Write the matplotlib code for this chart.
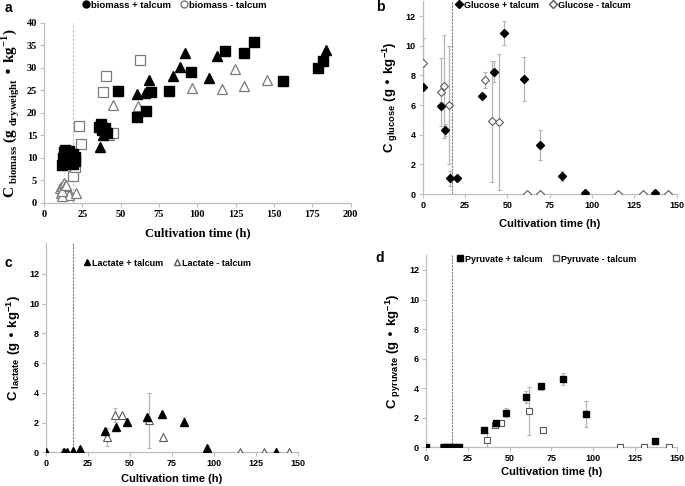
import matplotlib
matplotlib.use('Agg')
import matplotlib.pyplot as plt
from matplotlib.lines import Line2D

# ---- panel a : biomass ----
bio_sq_x = [12, 12.5, 13, 14, 14, 15, 16, 16, 17, 18, 19, 19, 20, 20,
            36, 37, 38, 40, 41, 48, 60.5, 66.5, 69.5, 81.5, 96, 118, 130.5, 137, 156, 179, 182]
bio_sq_y = [8.4, 10, 11.2, 9, 11.8, 10.2, 11.5, 8.8, 10.5, 9.5, 10.8, 8.5, 9.3, 10.2,
            16.8, 17.5, 16.2, 16.5, 15.5, 24.8, 19.0, 20.4, 24.5, 24.8, 29.0, 33.7, 33.2, 35.8, 27.0, 29.9, 31.5]
bio_tri_x = [36.5, 38.5, 60.8, 65.9, 68.7, 83.9, 88.7, 91.9, 107.8, 112.6, 184]
bio_tri_y = [12.3, 15.0, 24.2, 24.3, 27.3, 28.2, 30.1, 33.3, 27.6, 32.6, 33.9]
bio_osq_x = [18.7, 20.5, 23, 24, 38.7, 40.4, 45, 62.6]
bio_osq_y = [5.9, 8.0, 17.0, 13.0, 24.5, 28.2, 15.4, 31.6]
bio_otri_x = [10.5, 11, 11.5, 12, 12.5, 13, 13.5, 14, 14.5, 15, 15.5, 16, 12, 13.5, 11.5, 14.5,
              20.9, 42.5, 44.8, 61.1, 96.5, 115.9, 124.3, 130.4, 145.2]
bio_otri_y = [3.2, 2.2, 3.8, 2.6, 1.8, 4.3, 3.0, 2.0, 3.5, 2.4, 2.9, 1.7, 1.5, 3.6, 2.7, 3.9,
              2.2, 15.0, 21.6, 21.5, 25.5, 25.2, 29.6, 26.0, 27.3]

# ---- panel b : glucose ----
glc_p_x = [0, 11, 13, 16, 20, 35, 42, 48, 60, 69, 82, 96, 137]
glc_p_y = [7.2, 5.9, 4.3, 1.05, 1.05, 6.6, 8.25, 10.85, 7.75, 3.3, 1.2, 0.1, 0.05]
glc_p_e = [0, 0, 0.4, 0.5, 0, 0, 0.7, 0.8, 1.5, 1.0, 0.35, 0, 0]
glc_m_x = [0, 11, 12.5, 15.5, 37, 41, 45, 61.5, 69.5, 115.5, 130, 145]
glc_m_y = [8.8, 6.9, 7.25, 6.0, 7.7, 4.9, 4.85, 0, 0, 0, 0, 0]
glc_m_e = [1.7, 2.3, 3.5, 4.0, 0.55, 4.1, 4.6, 0, 0, 0, 0, 0]

# ---- panel c : lactate ----
lac_p_x = [0, 11, 12.5, 16, 20, 35, 42, 48, 60, 69, 82, 96, 137]
lac_p_y = [0, 0.05, 0.05, 0.1, 0.25, 1.45, 1.7, 2.05, 2.35, 2.55, 2.05, 0.3, 0]
lac_p_e = [0, 0, 0, 0, 0, 0, 0, 0, 0, 0, 0.3, 0, 0]
lac_m_x = [10, 36.5, 41, 45, 61.5, 70, 115.5, 130, 145]
lac_m_y = [0.05, 1.05, 2.5, 2.5, 2.15, 1.0, 0, 0, 0]
lac_m_e = [0, 0.6, 0.45, 0, 1.85, 0, 0, 0, 0]

# ---- panel d : pyruvate ----
pyr_p_x = [0, 10.5, 12.5, 14.5, 16.5, 20, 35, 42, 48, 60, 69, 82, 96, 137]
pyr_p_y = [0, 0, 0, 0, 0, 0.05, 1.2, 1.65, 2.35, 3.4, 4.12, 4.6, 2.25, 0.45]
pyr_p_e = [0, 0, 0, 0, 0, 0, 0, 0, 0.3, 0.4, 0.25, 0.4, 0.9, 0]
pyr_m_x = [10, 36.5, 41.5, 45, 61.5, 70, 116, 130.5, 145.5]
pyr_m_y = [0, 0.5, 1.5, 1.62, 2.46, 1.17, 0, 0, 0]
pyr_m_e = [0, 0.5, 0, 0, 1.65, 0, 0, 0, 0]

SERIF = 'Liberation Serif'
SANS = 'Liberation Sans'
SPINE = '#bdbdbd'
ERR = '#b5b5b5'
HOLLOW = '#7a7a7a'

fig = plt.figure(figsize=(6.85, 4.86), dpi=100)


def style_axes(ax, family, ticksize):
    for s in ['top', 'right']:
        ax.spines[s].set_visible(False)
    for s in ['left', 'bottom']:
        ax.spines[s].set_color(SPINE)
        ax.spines[s].set_linewidth(0.9)
    ax.tick_params(length=3, width=0.8, color=SPINE, pad=2, labelsize=ticksize)
    for lab in ax.get_xticklabels() + ax.get_yticklabels():
        lab.set_fontfamily(family)
        lab.set_fontweight('bold')


# ================= a =================
axa = fig.add_axes([44/685, 1-202.7/486, 306.7/685, 180/486])
axa.axvline(18.7, color='#c8c8c8', lw=1.0, ls=(0, (2, 1)), zorder=0)
axa.plot(bio_otri_x, bio_otri_y, '^', ms=7, mfc='white', mec=HOLLOW, mew=0.9, ls='none')
axa.plot(bio_osq_x, bio_osq_y, 's', ms=7, mfc='white', mec=HOLLOW, mew=0.9, ls='none')
axa.plot(bio_sq_x, bio_sq_y, 's', ms=7, color='black', ls='none')
axa.plot(bio_tri_x, bio_tri_y, '^', ms=7, color='black', ls='none')
axa.set_xlim(0, 200)
axa.set_ylim(0, 40)
axa.set_xticks(range(0, 201, 25))
axa.set_yticks(range(0, 41, 5))
style_axes(axa, SERIF, 7.5)
axa.set_xlabel('Cultivation time (h)', fontfamily=SERIF, fontweight='bold', fontsize=9, labelpad=6)
axa.set_ylabel(r'C$_{\mathregular{\ biomass}}$ (g$_{\mathregular{\ dryweight}}$ • kg$^{\mathregular{-1}}$)',
               fontfamily=SERIF, fontweight='bold', fontsize=11, labelpad=4)
ha = [Line2D([], [], marker='o', color='black', ls='none', ms=5),
      Line2D([], [], marker='o', mfc='white', mec=HOLLOW, ls='none', ms=5)]
axa.legend(ha, ['biomass + talcum', 'biomass - talcum'], ncol=2, loc='center',
           bbox_to_anchor=(0.427, 1.098), frameon=False, handlelength=0.6, handletextpad=0.25,
           columnspacing=1.0, prop={'family': SANS, 'weight': 'bold', 'size': 6.8})


def small_panel(rect, vline, px, py, pe, mx, my, me, mk, ms, ylim, xlabel_y, ylab, labels, legpos):
    ax = fig.add_axes(rect)
    ax.axvline(vline, color='#7a7a7a', lw=0.8, ls=(0, (2, 1)), zorder=0)
    ax.errorbar(mx, my, yerr=me, fmt=mk, ms=ms, mfc='white', mec='#5a5a5a', mew=0.8,
                ecolor=ERR, elinewidth=0.9, capsize=1.5, capthick=0.8, zorder=3)
    ax.errorbar(px, py, yerr=pe, fmt=mk, ms=ms, color='black', mec='black',
                ecolor=ERR, elinewidth=0.9, capsize=1.5, capthick=0.8, zorder=4)
    ax.set_xlim(0, 150)
    ax.set_ylim(0, ylim)
    ax.set_xticks(range(0, 151, 25))
    ax.set_yticks(range(0, 13, 2))
    style_axes(ax, SANS, 6.5)
    ax.set_xlabel('Cultivation time (h)', fontfamily=SANS, fontweight='bold', fontsize=8, labelpad=xlabel_y)
    ax.set_ylabel(ylab, fontfamily=SANS, fontweight='bold', fontsize=9.5, labelpad=4)
    hd = [Line2D([], [], marker=mk, color='black', ls='none', ms=4.5),
          Line2D([], [], marker=mk, mfc='white', mec='#5a5a5a', ls='none', ms=4.5)]
    ax.legend(hd, labels, ncol=2, loc='center', bbox_to_anchor=legpos, frameon=False,
              handlelength=0.6, handletextpad=0.25, columnspacing=1.2,
              prop={'family': SANS, 'weight': 'bold', 'size': 6.5})
    return ax


small_panel([422.7/685, 1-194/486, 254/685, 192.8/486], 17.5,
            glc_p_x, glc_p_y, glc_p_e, glc_m_x, glc_m_y, glc_m_e, 'D', 4.5, 13, 6.5,
            r'C$_{\mathregular{\ glucose}}$ (g • kg$^{\mathregular{-1}}$)',
            ['Glucose + talcum', 'Glucose - talcum'], (0.476, 0.98))
small_panel([46/685, 1-452.3/486, 251.7/685, 209.3/486], 15.9,
            lac_p_x, lac_p_y, lac_p_e, lac_m_x, lac_m_y, lac_m_e, '^', 5.5, 14.08, 4.5,
            r'C$_{\mathregular{\ lactate}}$ (g • kg$^{\mathregular{-1}}$)',
            ['Lactate + talcum', 'Lactate - talcum'], (0.483, 0.904))
small_panel([426/685, 1-447.3/486, 250.7/685, 192.1/486], 15.8,
            pyr_p_x, pyr_p_y, pyr_p_e, pyr_m_x, pyr_m_y, pyr_m_e, 's', 5, 13, 3,
            r'C$_{\mathregular{\ pyruvate}}$ (g • kg$^{\mathregular{-1}}$)',
            ['Pyruvate + talcum', 'Pyruvate - talcum'], (0.483, 0.98))

for lbl, x, y in [('a', 8, 8), ('b', 380, 7), ('c', 8, 263), ('d', 380, 258)]:
    fig.text(x/685, 1-y/486, lbl, fontfamily=SANS, fontweight='bold', fontsize=10,
             ha='center', va='center')

fig.savefig('out.png', dpi=100)
